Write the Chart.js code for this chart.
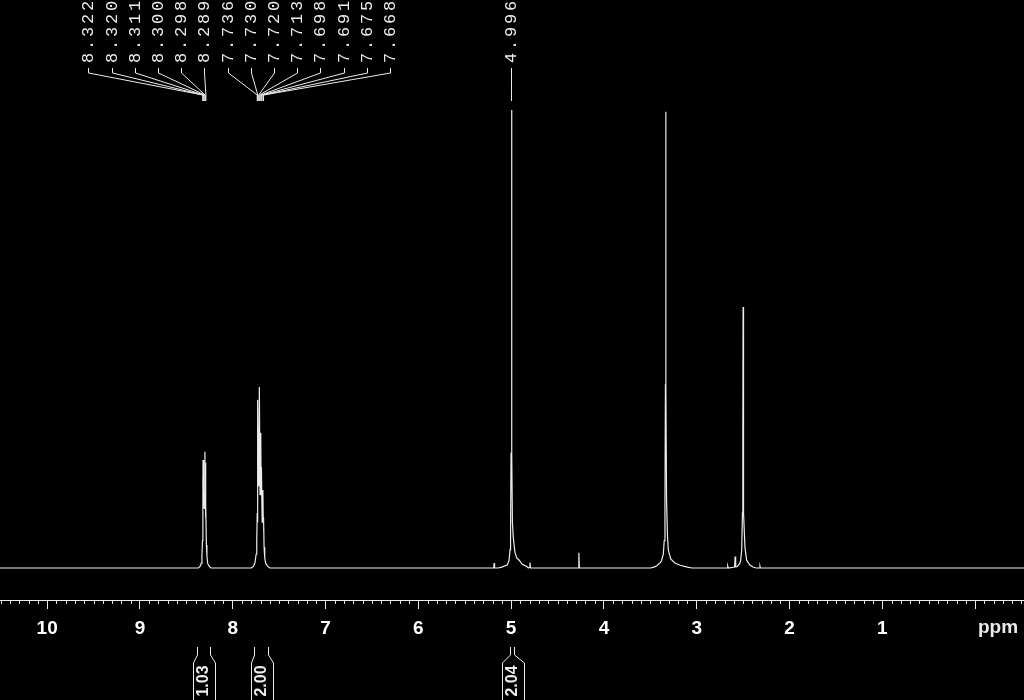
<!DOCTYPE html>
<html>
<head>
<meta charset="utf-8">
<script src="https://cdn.jsdelivr.net/npm/chart.js@4.4.0/dist/chart.umd.min.js"></script>
<style>
html, body { margin: 0; padding: 0; background: #000; }
#wrap { width: 1024px; height: 700px; position: relative; }
</style>
</head>
<body>
<div id="wrap"><canvas id="nmr"></canvas></div>
<script>
// ppm range of the plot (reversed axis, 10 on the left)
var ppmLeft = 10.508;
var ppmRight = -0.527;

// spectrum points, [ppm, relative intensity]
var baseline = [[10.55, 0], [-0.55, 0]];

var multiplet83 = [[8.37, 0], [8.35, 0.4], [8.34, 1], [8.332, 2.6], [8.326, 6], [8.322, 20], [8.321, 15],
  [8.320, 23.6], [8.316, 13], [8.311, 17], [8.305, 13], [8.300, 25.4], [8.299, 21], [8.298, 23],
  [8.294, 11], [8.289, 14], [8.284, 5], [8.278, 2.6], [8.27, 1], [8.255, 0.4], [8.235, 0]];

var multiplet77 = [[7.80, 0], [7.775, 0.4], [7.76, 1.2], [7.748, 3], [7.741, 6], [7.736, 12], [7.733, 10],
  [7.730, 36.7], [7.725, 18], [7.720, 30], [7.717, 22], [7.713, 39.5], [7.706, 16], [7.698, 29.5],
  [7.694, 17], [7.691, 22], [7.683, 10], [7.675, 17], [7.671, 10], [7.668, 11], [7.662, 4.5],
  [7.655, 2.2], [7.645, 1], [7.625, 0.4], [7.60, 0]];

var singlet50 = [[5.14, 0], [5.10, 0.2], [5.04, 0.7], [5.022, 1.7], [5.012, 4], [5.006, 8], [5.001, 25],
  [4.996, 100], [4.991, 25], [4.986, 10], [4.978, 7], [4.96, 3.5], [4.94, 2.2], [4.913, 1.7],
  [4.88, 0.8], [4.83, 0.3], [4.815, 0]];

var waterPeak = [[3.50, 0], [3.46, 0.2], [3.43, 0.5], [3.39, 1.2], [3.378, 1.7], [3.36, 3], [3.35, 6],
  [3.342, 15], [3.337, 40], [3.334, 99.6], [3.331, 40], [3.325, 15], [3.315, 7], [3.306, 3.9],
  [3.28, 2], [3.235, 1.1], [3.18, 0.6], [3.10, 0.2], [3.05, 0]];

var dmsoPeak = [[2.565, 0.3], [2.535, 1], [2.526, 1.7], [2.515, 4], [2.507, 12], [2.504, 18], [2.502, 30],
  [2.500, 57], [2.498, 30], [2.496, 18], [2.492, 12], [2.48, 4.5], [2.462, 1.7], [2.43, 0.7],
  [2.394, 0.2], [2.36, 0]];

var minorPeaks = [[5.188, 0], [5.183, 1.1], [5.178, 0],
  [4.803, 0.15], [4.797, 1.2], [4.791, 0],
  [4.276, 0], [4.270, 3.3], [4.264, 0],
  [2.672, 0], [2.666, 0.45], [2.660, 0],
  [2.592, 0.2], [2.586, 2.5], [2.580, 0.25],
  [2.322, 0], [2.318, 0.35], [2.314, 0]];

// peak pick labels
var peakLabelsAromatic = ['8.322', '8.320', '8.311', '8.300', '8.298', '8.289',
  '7.736', '7.730', '7.720', '7.713', '7.698', '7.691', '7.675', '7.668'];
var peakLabelsSinglet = ['4.996'];

// integrals
var integralFrom = [8.39, 7.77, 5.01];
var integralTo = [8.24, 7.62, 4.97];
var integralValues = ['1.03', '2.00', '2.04'];

var axisTicks = [10, 9, 8, 7, 6, 5, 4, 3, 2, 1, 0];

var spectrum = baseline.concat(multiplet83, multiplet77, singlet50, waterPeak, dmsoPeak, minorPeaks)
  .sort(function (a, b) { return b[0] - a[0]; })
  .map(function (p) { return { x: p[0], y: p[1] }; });

Chart.defaults.font.family = '"Liberation Sans", Arial, sans-serif';

var fg = '#ececec';

// peak labels, minor ticks, 'ppm', integrals
var decorPlugin = {
  id: 'decor',
  afterDraw: function (chart) {
    var ctx = chart.ctx;
    var xs = chart.scales.x;
    var axisY = chart.chartArea.bottom;
    ctx.save();
    ctx.strokeStyle = fg;
    ctx.fillStyle = fg;
    ctx.lineWidth = 1;

    // minor ticks every 0.1 ppm
    ctx.beginPath();
    for (var k = -5; k <= 105; k++) {
      if (k % 10 === 0) continue;
      var mx = Math.round(xs.getPixelForValue(k / 10)) + 0.5;
      ctx.moveTo(mx, axisY);
      ctx.lineTo(mx, axisY + 4);
    }
    ctx.stroke();

    ctx.font = 'bold 19px "Liberation Sans", Arial, sans-serif';
    ctx.textAlign = 'center';
    ctx.textBaseline = 'middle';
    ctx.fillText('ppm', 998, 628);

    // peak labels
    function drawLabels(list, spacing) {
      var px = list.map(function (t) { return xs.getPixelForValue(parseFloat(t)); });
      var mean = px.reduce(function (s, v) { return s + v; }, 0) / px.length;
      var start = list.length > 1 ? mean + 3 - spacing * (list.length - 1) / 2 : px[0];
      ctx.font = '17px "Liberation Mono", "DejaVu Sans Mono", monospace';
      list.forEach(function (t, i) {
        var lx = Math.round(start + spacing * i) + 0.5;
        for (var c = 0; c < t.length; c++) {
          ctx.save();
          ctx.translate(lx, 58 - 13 * c);
          ctx.rotate(-Math.PI / 2);
          ctx.textAlign = 'center';
          ctx.textBaseline = 'middle';
          ctx.fillText(t[c], 0, 0);
          ctx.restore();
        }
        ctx.beginPath();
        ctx.moveTo(lx, 68);
        ctx.lineTo(lx, 73);
        ctx.lineTo(px[i], 95);
        ctx.lineTo(px[i], 101);
        ctx.stroke();
      });
    }
    drawLabels(peakLabelsAromatic, 23.2);
    drawLabels(peakLabelsSinglet, 23.2);

    // integral brackets
    ctx.font = 'bold 16px "Liberation Sans", Arial, sans-serif';
    integralValues.forEach(function (v, i) {
      var x1 = Math.round(xs.getPixelForValue(integralFrom[i])) + 0.5;
      var x2 = Math.round(xs.getPixelForValue(integralTo[i])) + 0.5;
      var cx = (x1 + x2) / 2;
      var bw = 11;
      ctx.beginPath();
      ctx.moveTo(x1, 647); ctx.lineTo(x1, 655); ctx.lineTo(Math.round(cx - bw) + 0.5, 663); ctx.lineTo(Math.round(cx - bw) + 0.5, 700);
      ctx.moveTo(x2, 647); ctx.lineTo(x2, 655); ctx.lineTo(Math.round(cx + bw) + 0.5, 663); ctx.lineTo(Math.round(cx + bw) + 0.5, 700);
      ctx.stroke();
      ctx.save();
      ctx.translate(cx, 681);
      ctx.rotate(-Math.PI / 2);
      ctx.textAlign = 'center';
      ctx.textBaseline = 'middle';
      ctx.fillText(v, 0, 0);
      ctx.restore();
    });
    ctx.restore();
  }
};

var chart = new Chart(document.getElementById('nmr'), {
  type: 'scatter',
  data: {
    datasets: [{
      data: spectrum,
      showLine: true,
      borderColor: fg,
      borderWidth: 1.2,
      pointRadius: 0,
      tension: 0
    }]
  },
  options: {
    responsive: true,
    maintainAspectRatio: false,
    animation: false,
    layout: { padding: 0 },
    plugins: { legend: { display: false }, tooltip: { enabled: false } },
    scales: {
      x: {
        type: 'linear',
        reverse: true,
        min: ppmRight,
        max: ppmLeft,
        afterFit: function (scale) { scale.height = 100; },
        afterBuildTicks: function (scale) {
          scale.ticks = axisTicks.map(function (v) { return { value: v }; });
        },
        border: { display: true, color: fg, width: 1 },
        grid: { drawOnChartArea: false, drawTicks: true, tickLength: 9, color: fg },
        ticks: {
          includeBounds: false,
          autoSkip: false,
          maxRotation: 0,
          color: '#fff',
          padding: 8,
          font: { size: 19, weight: 'bold' },
          callback: function (v) { return v === 0 ? '' : String(v); }
        }
      },
      y: {
        display: false,
        min: -6.99,
        max: 124.0
      }
    }
  },
  plugins: [decorPlugin]
});
</script>
</body>
</html>
